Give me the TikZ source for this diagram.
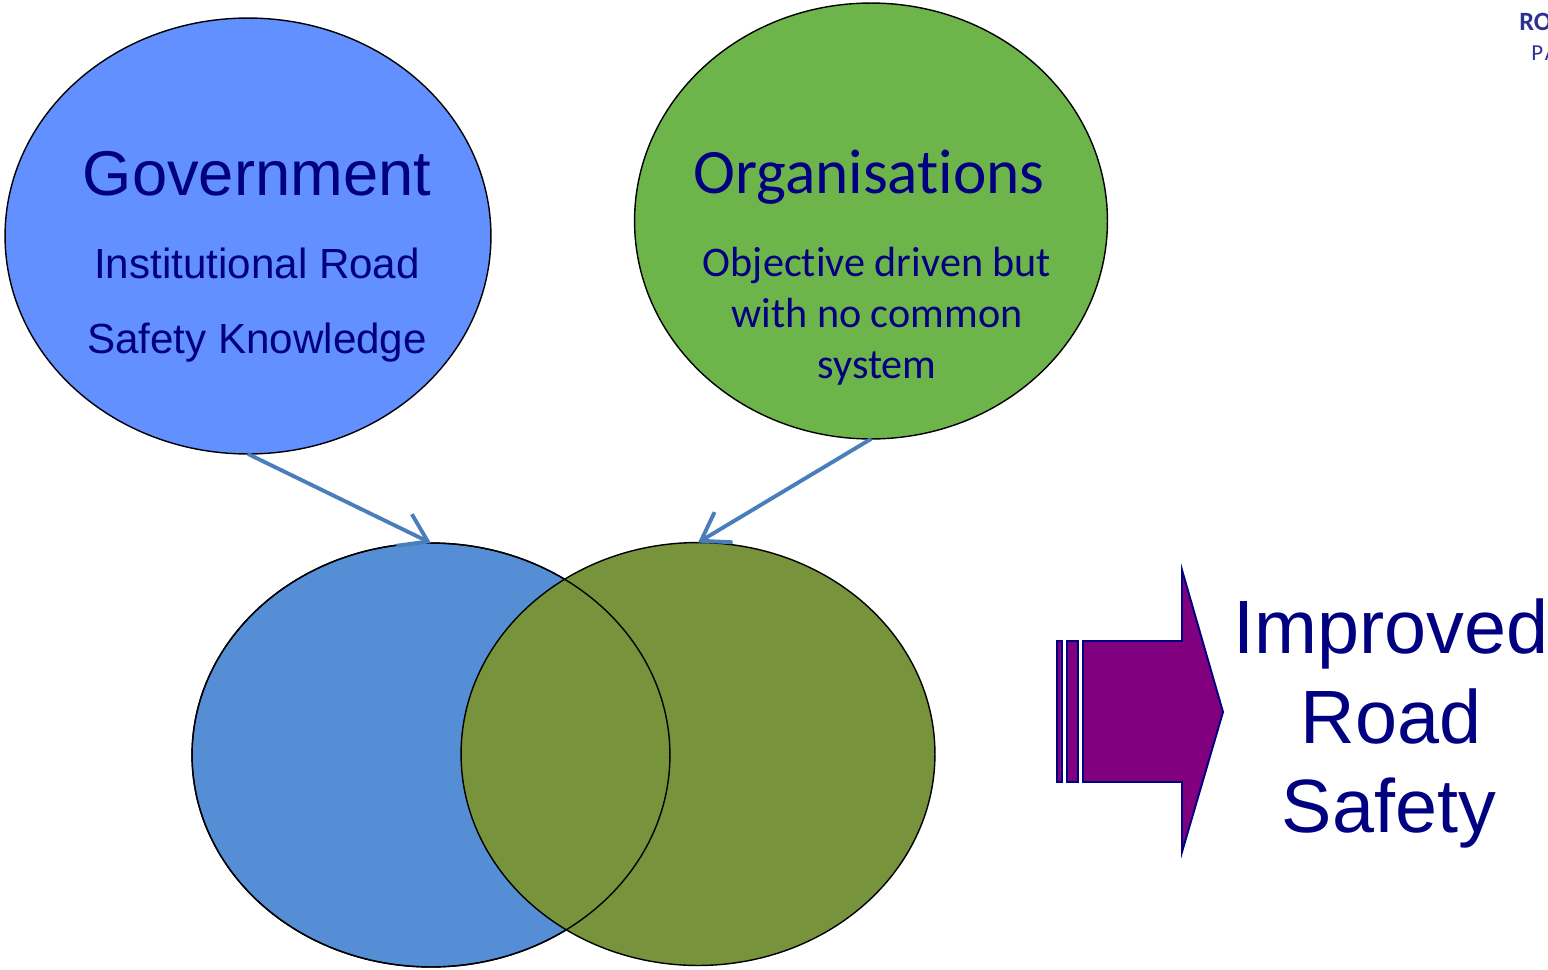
\documentclass[tikz,border=0pt]{standalone}
\usepackage{fontspec}
\setmainfont{Liberation Sans}
\newfontfamily\calibri[Ligatures=NoCommon]{Carlito}
\usetikzlibrary{shapes.geometric, arrows.meta}
\definecolor{govblue}{RGB}{98,144,255}
\definecolor{orggreen}{RGB}{109,181,75}
\definecolor{leftblue}{RGB}{85,142,213}
\definecolor{rightolive}{RGB}{119,147,60}
\definecolor{linkblue}{RGB}{74,126,187}
\definecolor{textnavy}{RGB}{0,0,128}
\definecolor{arrowpurple}{RGB}{128,0,128}
\definecolor{logoblue}{RGB}{46,49,146}

\begin{document}
\begin{tikzpicture}[
   x = 0.02cm, y = -0.02cm,
     oval/.style = {ellipse, draw=black, line width=0.8pt,
                    inner sep=0pt, outer sep=0pt, node contents={}},
     rim/.style  = {draw=black, line width=0.8pt},
     link/.style = {draw=linkblue, line width=2.2pt,
                    -{Straight Barb[length=15pt, width=20pt]}},
   stripe/.style = {fill=arrowpurple, draw=textnavy, line width=1.1pt,
                    line join=miter},
    title/.style = {anchor=base, text=textnavy,
                    font=\fontsize{36}{43}\selectfont},
     line/.style = {anchor=base, text=textnavy,
                    font=\fontsize{24}{29}\selectfont},
      big/.style = {anchor=base, text=textnavy,
                    font=\fontsize{43}{52}\selectfont}
                    ]
  \useasboundingbox (0,0) rectangle (1548,970);
% top circles
  \node (gov) at (248,236) [oval, fill=govblue,
        minimum width=9.72cm, minimum height=8.72cm];
  \node (org) at (871,221) [oval, fill=orggreen,
        minimum width=9.46cm, minimum height=8.72cm];
% overlapping pair
  \node (left) at (431,755) [oval, fill=leftblue,
        minimum width=9.56cm, minimum height=8.48cm];
  \node (right) at (698,754) [oval, fill=rightolive,
        minimum width=9.48cm, minimum height=8.46cm];
  \draw [rim] (left.center) ellipse [x radius=4.78cm, y radius=4.24cm];
% connectors
  \draw [link] (gov.south) -- (left.north);
  \draw [link] (org.south) -- (right.north);
% texts
  \node (govtitle) at (257,195) [title] {Government};
  \node (govline1) at (257,278) [line] {Institutional Road};
  \node (govline2) at (257,353) [line] {Safety Knowledge};
  \node (orgtitle) at (869,193) [title, font=\calibri\fontsize{36}{43}\selectfont] {Organisations};
  \node (orgline1) at (877,276) [line, font=\calibri\fontsize{24}{29}\selectfont] {Objective driven but};
  \node (orgline2) at (877,327) [line, font=\calibri\fontsize{24}{29}\selectfont] {with no common};
  \node (orgline3) at (877,378) [line, font=\calibri\fontsize{24}{29}\selectfont] {system};
% striped arrow
  \draw [stripe] (1057,641) rectangle (1062,782);
  \draw [stripe] (1067,641) rectangle (1078,782);
  \draw [stripe] (1083,641) -- (1182,641) -- (1182,570) -- (1223,712)
        -- (1182,852) -- (1182,782) -- (1083,782) -- cycle;
  \node (improved) at (1391,653) [big] {Improved};
  \node (road)     at (1391,743) [big] {Road};
  \node (safety)   at (1389,832) [big] {Safety};
% logo corner
  \node (logoro) at (1519,31) [anchor=base west, inner sep=0pt, text=logoblue,
        font=\calibri\bfseries\fontsize{15}{18}\selectfont] {RO};
  \node (logopa) at (1531,60) [anchor=base west, inner sep=0pt, text=logoblue,
        font=\calibri\fontsize{13}{16}\selectfont] {P\hspace{1pt}A};
\end{tikzpicture}
\end{document}
